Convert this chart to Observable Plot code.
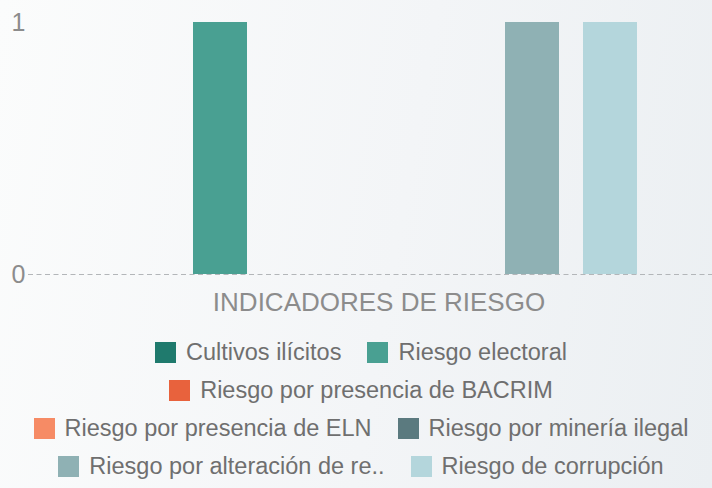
<!DOCTYPE html>
<html>
<head>
<meta charset="utf-8">
<script src="https://cdn.jsdelivr.net/npm/d3@7"></script>
<script src="https://cdn.jsdelivr.net/npm/@observablehq/plot@0.6"></script>
<style>
  html, body { margin: 0; padding: 0; }
  #page {
    width: 712px; height: 488px; overflow: hidden;
    background: linear-gradient(100deg, #fbfcfc 0%, #f3f5f7 55%, #ebeff2 100%);
    font-family: "Liberation Sans", Arial, sans-serif;
  }
  #legend {
    width: 702px; padding-left: 10px; display: flex; flex-wrap: wrap; justify-content: center;
    column-gap: 26px; row-gap: 14px; margin-top: 22px;
  }
  .item { display: flex; align-items: center; font-size: 23.5px; color: #6f6f6f; line-height: 24px; white-space: nowrap; }
  .sw { width: 21px; height: 21px; margin-right: 10px; flex: none; }
</style>
</head>
<body>
<div id="page"><div id="chart"></div><div id="legend"></div></div>
<script>
const series = [
  "Cultivos ilícitos",
  "Riesgo electoral",
  "Riesgo por presencia de BACRIM",
  "Riesgo por presencia de ELN",
  "Riesgo por minería ilegal",
  "Riesgo por alteración de re..",
  "Riesgo de corrupción"
];
const values = [0, 1, 0, 0, 0, 1, 1];
const colors = ["#1f7a6d", "#49a092", "#e8623d", "#f68b65", "#5b7a7f", "#8fb1b4", "#b4d6dc"];
const yTicks = [0, 1];
const axisTitle = "INDICADORES DE RIESGO";

const data = series.map((s, i) => ({serie: s, valor: values[i]}));

const chart = Plot.plot({
  width: 712,
  height: 318,
  marginTop: 22,
  marginBottom: 44,
  marginLeft: 28,
  marginRight: -17,
  style: {background: "transparent", fontFamily: "'Liberation Sans', Arial, sans-serif", overflow: "visible"},
  x: {domain: series, range: [115, 637], paddingInner: 0.31, paddingOuter: 0},
  y: {domain: [0, 1]},
  color: {domain: series, range: colors},
  marks: [
    Plot.barY(data, {x: "serie", y: "valor", fill: "serie"}),
    Plot.ruleY([0], {stroke: "#b3b6b9", strokeWidth: 1.2, strokeDasharray: "5,3.5"}),
    Plot.axisY({ticks: yTicks, tickFormat: d3.format("d"), tickSize: 0, tickPadding: 0, textAnchor: "start", dx: -17, fontSize: 25, fill: "#8c8c8c", label: null}),
    Plot.axisX({tickSize: 0, tickFormat: () => "", label: axisTitle, labelAnchor: "center", labelOffset: 36, fontSize: 26, fill: "#8c8c8c"})
  ]
});
document.getElementById("chart").appendChild(chart);

const legend = d3.select("#legend");
series.forEach((s, i) => {
  const it = legend.append("div").attr("class", "item");
  it.append("div").attr("class", "sw").style("background", colors[i]);
  it.append("span").text(s);
});
</script>
</body>
</html>
